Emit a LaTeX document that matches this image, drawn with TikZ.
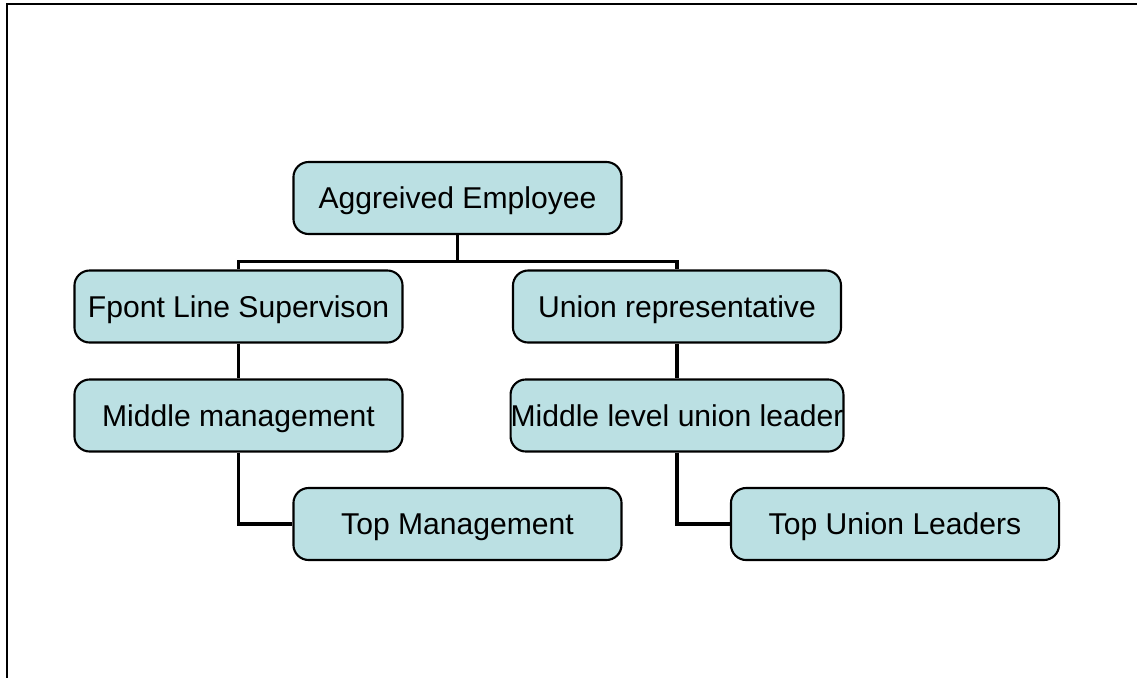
\documentclass[tikz,border=0pt]{standalone}
\usepackage{fontspec}
\setmainfont{Liberation Sans}
\usepackage{tikz}

\definecolor{boxfill}{RGB}{187,224,227}

\begin{document}
\begin{tikzpicture}[x=0.025cm,y=-0.025cm,
    level/.style={draw,line width=1.5pt,fill=boxfill,rounded corners=0.38cm,
      minimum width=8.2cm,minimum height=1.8cm,inner sep=0pt,
      text height=15.3pt,text depth=0pt,
      font=\fontsize{21.4}{25}\selectfont},
    link/.style={line width=2.2pt}]
      \useasboundingbox (0,0) rectangle (1137,677);
      \draw[line width=2pt] (7,690) -- (7,4) -- (1150,4);
      \node[level] (agg) at (457.5,198) {Aggreived Employee};
      \node[level] (sup) at (238.5,306.5) {Fpont Line Supervison};
      \node[level] (rep) at (677,306.5) {Union representative};
      \node[level] (mid) at (238.5,415.5) {Middle management};
      \node[level] (lead) at (677,415.5) {Middle level union leader};
      \node[level] (topm) at (457.5,524) {Top Management};
      \node[level] (topu) at (895,524) {Top Union Leaders};
      \draw[link] (agg.south) -- ++(0,26) -| (sup.north);
      \draw[link] (agg.south) -- ++(0,26) -| (rep.north);
      \draw[link] (sup) -- (mid);
      \draw[link] (rep) -- (lead);
      \draw[link] (mid.south) |- (topm.west);
      \draw[link] (lead.south) |- (topu.west);
\end{tikzpicture}
\end{document}
